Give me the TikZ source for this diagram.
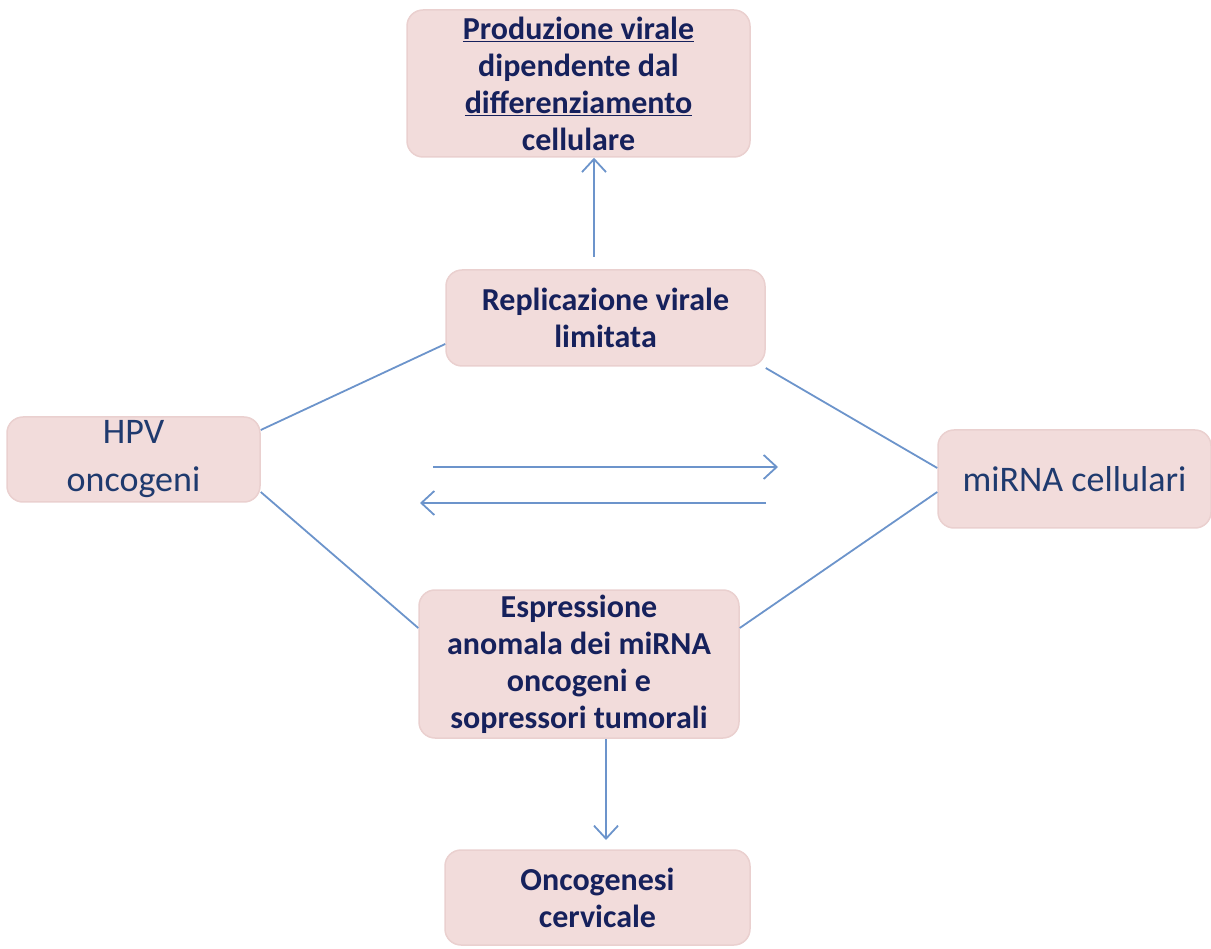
\documentclass[tikz,border=0pt]{standalone}
\usepackage{fontspec}
\setmainfont{Carlito}
\usetikzlibrary{arrows.meta}
\definecolor{boxfill}{HTML}{F2DCDB}
\definecolor{boxline}{HTML}{EAD0CF}
\definecolor{linkcol}{HTML}{6C94CB}
\definecolor{txtbold}{HTML}{16215C}
\definecolor{txtreg}{HTML}{1F3A6E}
\tikzset{
  box/.style={draw=boxline, line width=1.5pt, fill=boxfill, rounded corners=16pt, inner sep=0pt, align=center},
  boldtxt/.style={text=txtbold, font=\fontsize{32}{37}\selectfont\bfseries},
  regtxt/.style={text=txtreg, font=\fontsize{36}{48}\selectfont},
  link/.style={draw=linkcol, line width=1.8pt},
  arr/.style={link, -{Straight Barb[length=13pt,width=24pt,line width=1.8pt]}}
}
\begin{document}
\begin{tikzpicture}[x=1pt,y=-1pt]
\useasboundingbox (0,0) rectangle (1211,949);
\node[box,boldtxt,minimum width=343pt,minimum height=147pt] (prod) at (578.5,83.5)
  {\underline{Produzione virale}\\dipendente dal\\\underline{differenziamento}\\cellulare};
\node[box,boldtxt,minimum width=319pt,minimum height=96pt] (repl) at (605.5,318)
  {Replicazione virale\\limitata};
\node[box,regtxt,minimum width=253pt,minimum height=85pt] (hpv) at (133.5,459.5)
  {HPV\\oncogeni};
\node[box,regtxt,minimum width=273pt,minimum height=98pt] (mirna) at (1074.5,479)
  {miRNA cellulari};
\node[box,boldtxt,minimum width=320pt,minimum height=148pt] (espr) at (579,664)
  {Espressione\\anomala dei miRNA\\oncogeni e\\sopressori tumorali};
\node[box,boldtxt,minimum width=305pt,minimum height=95pt] (onco) at (597.5,897.5)
  {Oncogenesi\\cervicale};

\coordinate (upstart) at (594,257);
\coordinate (downend) at (606,840);
\coordinate (r1s) at (433,467);
\coordinate (r1e) at (778,467);
\coordinate (r2s) at (766,503);
\coordinate (r2e) at (420,503);

\draw[arr] (upstart) -- (prod.south -| upstart);
\draw[arr] (espr.south -| downend) -- (downend);
\draw[arr] (r1s) -- (r1e);
\draw[arr] (r2s) -- (r2e);

\draw[link] (hpv.east |- 0,430) -- (repl.west |- 0,344);
\draw[link] (hpv.east |- 0,492) -- (espr.west |- 0,628);
\draw[link] (repl.east |- 0,368) -- (mirna.west |- 0,468);
\draw[link] (mirna.west |- 0,492) -- (espr.east |- 0,628);
\end{tikzpicture}
\end{document}
